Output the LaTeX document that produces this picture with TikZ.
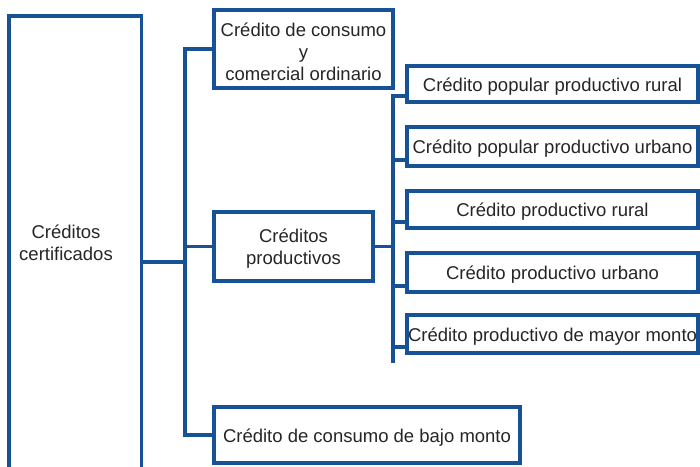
\documentclass[tikz,border=0pt]{standalone}
\usepackage{fontspec}
\setmainfont{Liberation Sans}
\definecolor{lineblue}{RGB}{23,82,150}
\definecolor{txtgray}{RGB}{38,38,38}
\begin{document}
\begin{tikzpicture}[x=1pt,y=-1pt,
  box/.style={draw=lineblue, line width=3.7pt, fill=white, inner sep=0pt},
  txt/.style={inner sep=0pt, align=center, text=txtgray, font=\fontsize{18.5}{22}\selectfont},
  link/.style={draw=lineblue, line width=3.7pt}]
\clip (0,0) rectangle (700,466);
\fill[white] (0,0) rectangle (700,466);
% left box
\node[box, minimum width=132.5pt, minimum height=464pt] (cert) at (75.25,248) {};
\node[txt] (certtxt) at (66,243) {Créditos\\certificados};
% middle boxes
\node[box, minimum width=179pt, minimum height=78pt] (A) at (303.5,49) {};
\node[box, minimum width=159pt, minimum height=69pt] (B) at (293.5,246.5) {};
\node[box, minimum width=306pt, minimum height=56pt] (C) at (367,435) {};
% right boxes
\node[box, minimum width=291pt, minimum height=36pt] (r1) at (552.5,84) {};
\node[box, minimum width=291pt, minimum height=39pt] (r2) at (552.5,146.5) {};
\node[box, minimum width=291pt, minimum height=37pt] (r3) at (552.5,209.5) {};
\node[box, minimum width=291pt, minimum height=39pt] (r4) at (552.5,272.5) {};
\node[box, minimum width=291pt, minimum height=38pt] (r5) at (552.5,334) {};
% texts
\node[txt] (Atxt) at ([yshift=-2.5pt]A.center) {Crédito de consumo\\y\\comercial ordinario};
\node[txt] (Btxt) at ([yshift=-2.5pt]B.center) {Créditos\\productivos};
\node[txt] (Ctxt) at ([yshift=-3pt]C.center) {Crédito de consumo de bajo monto};
\node[txt] (r1txt) at ([yshift=-2.5pt]r1.center) {Crédito popular productivo rural};
\node[txt] (r2txt) at ([yshift=-2.5pt]r2.center) {Crédito popular productivo urbano};
\node[txt] (r3txt) at ([yshift=-2.5pt]r3.center) {Crédito productivo rural};
\node[txt] (r4txt) at ([yshift=-2.5pt]r4.center) {Crédito productivo urbano};
\node[txt] (r5txt) at ([yshift=-2.5pt]r5.center) {Crédito productivo de mayor monto};
% trunks
\coordinate (trunkL) at (185,262);
\coordinate (trunkRbot) at (393,363);
\coordinate (b1) at ([yshift=8pt]r1.south west);
\coordinate (b2) at ([yshift=8pt]r2.south west);
\coordinate (b3) at ([yshift=8pt]r3.south west);
\coordinate (b4) at ([yshift=8pt]r4.south west);
\coordinate (b5) at ([yshift=8pt]r5.south west);
% left tree
\draw[link] (A.west) -| (trunkL |- C.west) -- (C.west);
\draw[link] (cert.east |- trunkL) -- (trunkL);
\draw[link] (trunkL |- B.west) -- (B.west);
% right tree
\draw[link] (B.east) -- (trunkRbot |- B.east);
\draw[link] (b1) -| (trunkRbot);
\draw[link] (b2) -- (trunkRbot |- b2);
\draw[link] (b3) -- (trunkRbot |- b3);
\draw[link] (b4) -- (trunkRbot |- b4);
\draw[link] (b5) -- (trunkRbot |- b5);
\end{tikzpicture}
\end{document}
